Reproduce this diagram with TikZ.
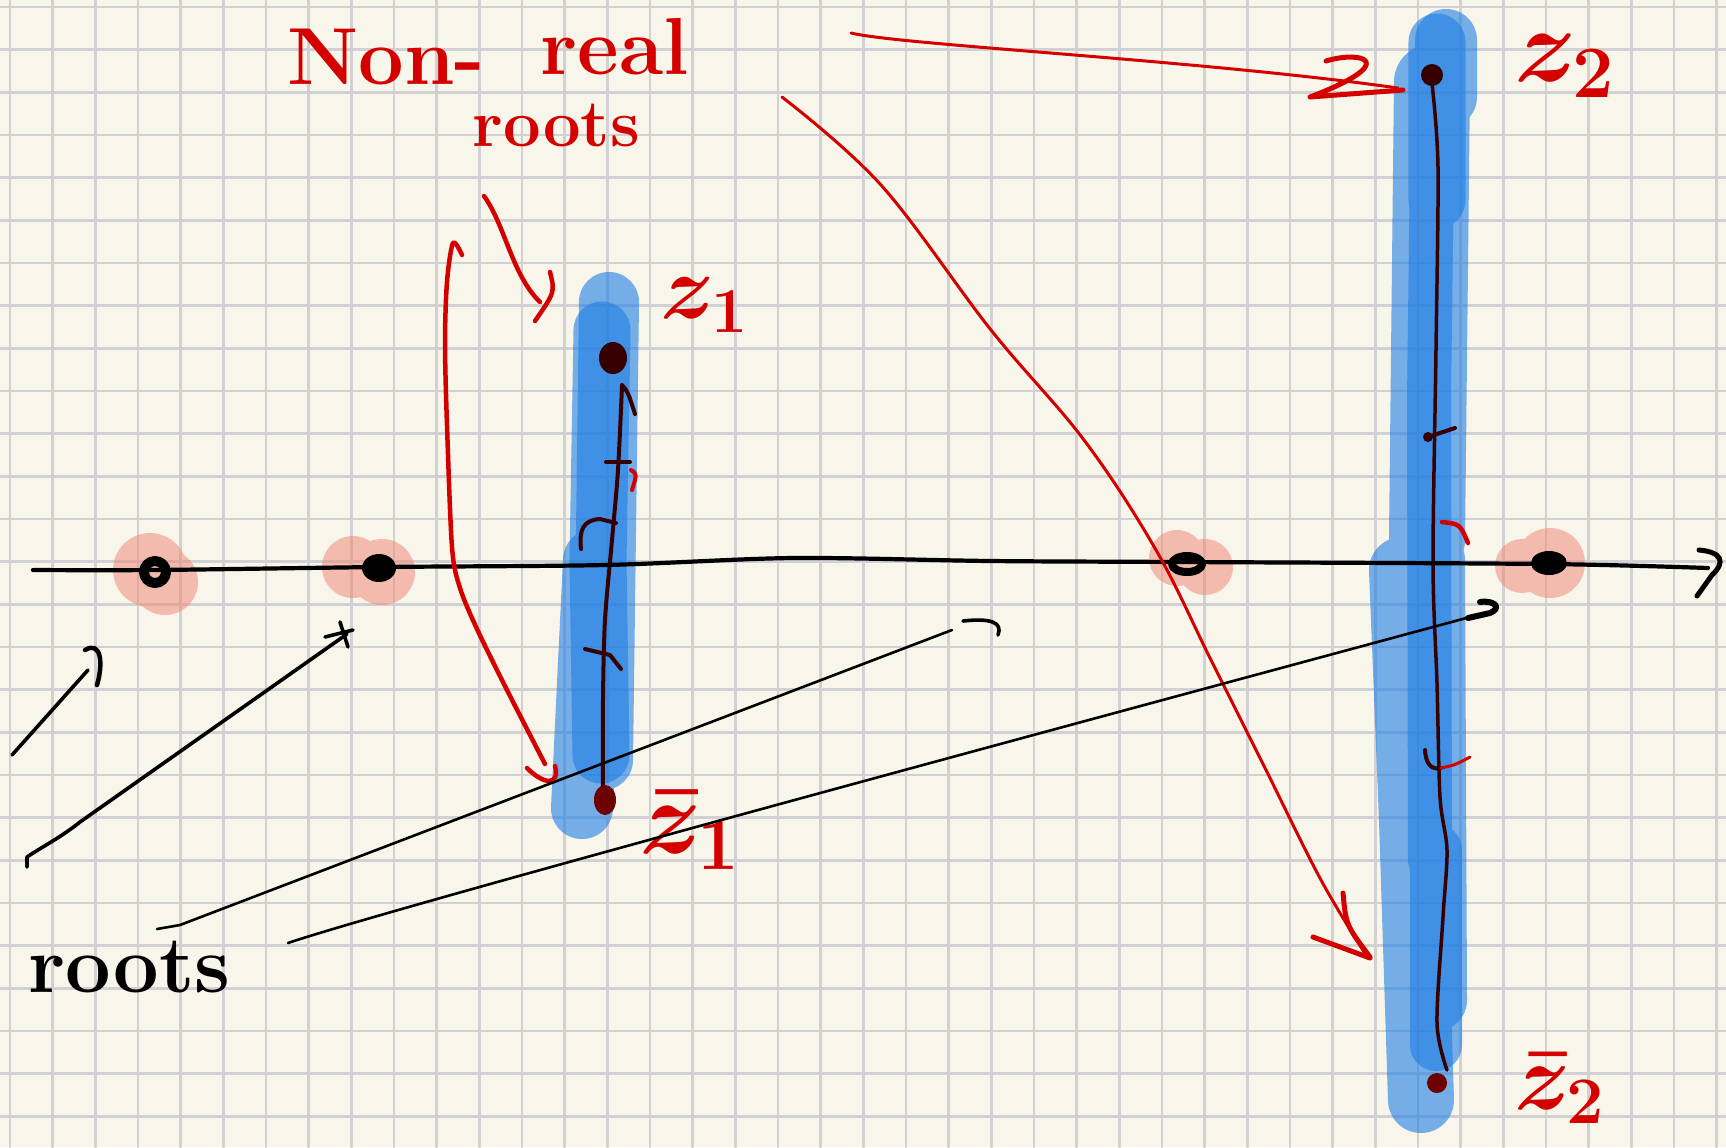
\RequirePackage{fix-cm}
\documentclass[tikz,border=0pt]{standalone}
\usepackage{amsmath}
\usetikzlibrary{arrows.meta}

\definecolor{paper}{RGB}{248,246,234}
\definecolor{gridgray}{RGB}{209,209,211}
\definecolor{pen}{RGB}{212,0,0}
\definecolor{stemred}{RGB}{55,0,0}
\definecolor{dotred}{RGB}{110,0,0}
\definecolor{hilite}{RGB}{30,125,230}
\definecolor{blush}{RGB}{240,130,115}

\begin{document}
\begin{tikzpicture}[x=0.01cm, y=-0.01cm, line cap=round, line join=round,
    gridline/.style={gridgray, line width=0.027cm},
    ink/.style={black, line width=0.036cm},
    fine ink/.style={black, line width=0.026cm},
    redpen/.style={pen, line width=0.03cm},
    thick redpen/.style={pen, line width=0.05cm},
    stem/.style={stemred, line width=0.04cm},
    marker/.style={hilite, line cap=round, line join=round, line width=#1},
    hand/.style={inner sep=0pt, font=\bfseries\fontsize{#1}{#1}\selectfont\boldmath}]
  % paper and grid
  \fill[paper] (0,0) rectangle (1726,1147);
  \useasboundingbox (0,0) rectangle (1726,1147);
  \foreach \k in {0,...,40} \draw[gridline] ({10+42.67*\k},0) -- ({10+42.67*\k},1147);
  \foreach \k in {0,...,26} \draw[gridline] (0,{7+42.67*\k}) -- (1726,{7+42.67*\k});

  % the roots
  \coordinate (r1) at (155,572);
  \coordinate (r2) at (379,568);
  \coordinate (r3) at (1187,564);
  \coordinate (r4) at (1549,563);
  \coordinate (z1) at (613,358);
  \coordinate (zb1) at (605,800);
  \coordinate (z2) at (1432,75);
  \coordinate (zb2) at (1437,1083);

  % pink marks on the real roots
  \begin{scope}[transparency group, opacity=0.5]
    \fill[blush] (150,570) circle (37); \fill[blush] (165,582) circle (33);
    \fill[blush] (353,567) circle (31); \fill[blush] (382,572) circle (33);
    \fill[blush] (1177,558) circle (28); \fill[blush] (1205,567) circle (28);
    \fill[blush] (1522,566) circle (27); \fill[blush] (1550,563) circle (35);
  \end{scope}

  % highlighter, light
  \begin{scope}[transparency group, opacity=0.6]
    \draw[marker=0.6cm] (609,302) -- (603,760);
    \draw[marker=0.62cm] (594,560) -- (582,808);
    \draw[marker=0.62cm] (1446,40) -- (1446,97);
    \draw[marker=0.76cm] (1432,82) -- (1427,540);
    \draw[marker=0.66cm] (1402,570) -- (1412,820) -- (1421,1100);
    \draw[marker=0.62cm] (1434,560) -- (1436,1000);
  \end{scope}
  % highlighter, dark
  \begin{scope}[transparency group, opacity=0.6]
    \draw[marker=0.57cm] (602,330) -- (598,560) -- (601,755);
    \draw[marker=0.57cm] (1437,42) -- (1437,200);
    \draw[marker=0.44cm] (1432,160) -- (1429,400) -- (1430,860);
    \draw[marker=0.52cm] (1436,850) -- (1436,1045);
  \end{scope}

  % z1 -- zb1
  \draw[stem] plot[smooth] coordinates {(622,386) (618,470) (612,540) (605,620) (603,700) (603,788)};
  \draw[stem] (622,385) .. controls (628,392) .. (635,414);
  \draw[stem] (606,462) -- (630,462);
  \draw[redpen, line width=0.04cm] (631,470) .. controls (637,474) .. (632,490);
  \draw[stem] (581,549) .. controls (579,530) and (583,520) .. (600,519) -- (616,523);
  \draw[stem] (585,649) -- (610,655) -- (621,669);
  % z2 -- zb2
  \draw[stem, line width=0.035cm] plot[smooth] coordinates {(1432,83) (1438,167) (1436,350) (1433,563) (1437,683) (1440,797) (1447,850) (1443,917) (1437,1023) (1447,1070)};
  \draw[stem] (1428,437) -- (1455,428);
  \fill[stemred] (1428,437) circle (5);
  \draw[redpen, line width=0.045cm] (1442,522) .. controls (1460,524) .. (1468,543);
  \draw[stem] (1425,750) .. controls (1426,765) and (1432,770) .. (1441,768);
  \draw[redpen] (1441,768) .. controls (1455,765) .. (1470,757);

  % real axis
  \draw[ink, line width=0.042cm] plot[smooth] coordinates {(33,570) (154,570) (380,567) (605,565) (793,558) (991,561) (1183,562) (1547,564) (1708,568)};
  \draw[ink, line width=0.05cm] (1699,550) .. controls (1722,552) and (1726,562) .. (1712,575) -- (1697,596);

  % dots
  \draw[black, line width=0.1cm] (r1) circle (11);
  \fill[black] (r2) ellipse [x radius=17, y radius=14];
  \draw[black, line width=0.08cm] (r3) ellipse [x radius=15, y radius=8];
  \fill[black] (r4) ellipse [x radius=18, y radius=12];
  \fill[stemred] (z1) ellipse [x radius=14, y radius=16];
  \fill[dotred] (zb1) ellipse [x radius=11, y radius=15];
  \fill[stemred] (z2) circle (11);
  \fill[dotred] (zb2) circle (10);

  % labels
  \node[hand=23, pen, anchor=base west] (nonreal) at (287,84) {Non-};
  \node[hand=23, pen, anchor=base west] (real) at (540,74) {real};
  \node[hand=19, pen, anchor=base west] (nrroots) at (472,146) {roots};
  \node[hand=23, anchor=base west] (roots) at (28,992) {roots};
  \node[hand=26, pen] (lz1) at (705,305) {$z_1$};
  \node[hand=30, pen] (lzb1) at (690,830) {$\bar z_1$};
  \node[hand=30, pen] (lz2) at (1565,66) {$z_2$};
  \node[hand=27, pen] (lzb2) at (1560,1088) {$\bar z_2$};

  % red arrows
  \coordinate (ta) at (851,33);
  \draw[redpen] (ta) .. controls (900,45) and (1200,60) .. (1398,88);
  \draw[thick redpen] (1326,61) .. controls (1362,50) and (1402,62) .. (1310,97) -- (1403,90);
  \coordinate (tb) at (782,97);
  \draw[redpen] plot[smooth, tension=0.6] coordinates {(tb) (881,185) (991,330) (1084,440) (1156,550) (1211,660) (1266,770) (1321,880) (1366,955)};
  \draw[thick redpen] (1313,937) -- (1370,958);
  \draw[thick redpen] (1343,893) .. controls (1346,925) .. (1370,957);
  \coordinate (tc) at (484,196);
  \draw[redpen, line width=0.045cm] (tc) .. controls (505,225) and (512,275) .. (540,302);
  \draw[redpen, line width=0.045cm] (550,272) .. controls (555,292) .. (535,321);
  \coordinate (td) at (462,255);
  \draw[redpen, line width=0.045cm] plot[smooth] coordinates {(td) (453,243) (447,282) (445,343) (447,425) (452,547) (460,588) (477,629) (507,690) (545,764)};
  \draw[redpen, line width=0.045cm] (527,768) .. controls (545,786) and (560,785) .. (555,766);

  % black arrows
  \coordinate (ba) at (12,755);
  \draw[ink] (ba) -- (88,670);
  \draw[ink, line width=0.045cm] (85,650) .. controls (102,640) and (103,665) .. (97,685);
  \coordinate (bb) at (27,867);
  \draw[ink] (bb) -- (27,857) .. controls (40,848) and (60,838) .. (80,822) -- (347,634);
  \draw[ink] (325,637) -- (353,630);
  \draw[ink] (340,622) -- (348,647);
  \coordinate (bc) at (157,929);
  \draw[fine ink] (bc) -- (180,925) -- (952,630);
  \draw[ink] (963,621) .. controls (990,618) and (1003,622) .. (998,635);
  \coordinate (bd) at (288,943);
  \draw[fine ink] (bd) .. controls (400,905) and (1200,690) .. (1470,617);
  \draw[ink, line width=0.06cm] (1468,618) -- (1490,613) .. controls (1502,608) and (1495,600) .. (1480,602);
\end{tikzpicture}
\end{document}
